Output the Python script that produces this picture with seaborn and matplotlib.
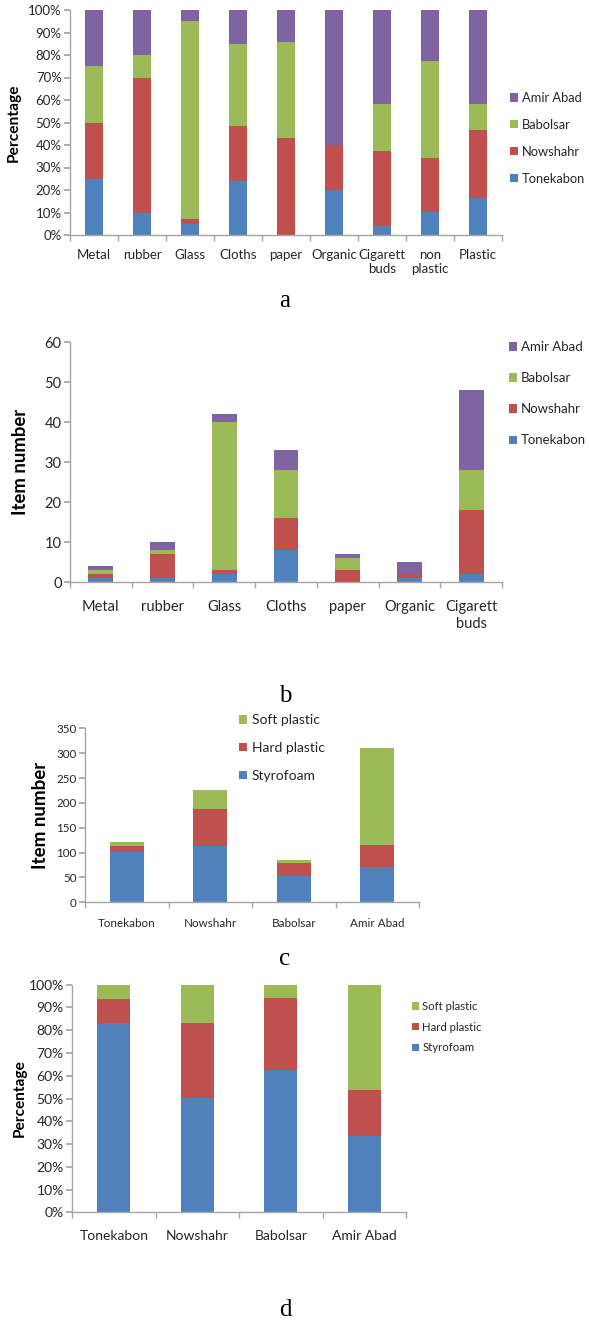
import matplotlib
matplotlib.use("Agg")
import matplotlib.pyplot as plt
from matplotlib.patches import Patch
import numpy as np
import pandas as pd
import seaborn as sns

sns.set_theme(style="white")
plt.rcParams["font.family"] = ["Lato", "DejaVu Sans"]

# ---- data -------------------------------------------------------------
cities = ["Tonekabon", "Nowshahr", "Babolsar", "Amir Abad"]
city_colors = ["#4F81BD", "#C0504D", "#9BBB59", "#8064A2"]

# (a) share of each city per litter type, %
types_a = ["Metal", "rubber", "Glass", "Cloths", "paper", "Organic",
           "Cigarett\nbuds", "non\nplastic", "Plastic"]
tonekabon_pct = [25.0, 10.0, 4.8, 24.2, 0.0, 20.0, 4.2, 10.1, 16.4]
nowshahr_pct = [25.0, 60.0, 2.4, 24.2, 42.9, 20.0, 33.3, 24.2, 30.4]
babolsar_pct = [25.0, 10.0, 88.1, 36.4, 42.9, 0.0, 20.8, 43.0, 11.4]
amirabad_pct = [25.0, 20.0, 4.8, 15.2, 14.3, 60.0, 41.7, 22.8, 41.7]

# (b) item counts of non-plastic litter
types_b = ["Metal", "rubber", "Glass", "Cloths", "paper", "Organic",
           "Cigarett\nbuds"]
tonekabon_n = [1, 1, 2, 8, 0, 1, 2]
nowshahr_n = [1, 6, 1, 8, 3, 1, 16]
babolsar_n = [1, 1, 37, 12, 3, 0, 10]
amirabad_n = [1, 2, 2, 5, 1, 3, 20]

# (c) plastic item counts per city
plastics = ["Styrofoam", "Hard plastic", "Soft plastic"]
plastic_colors = ["#4F81BD", "#C0504D", "#9BBB59"]
styrofoam_n = [101, 113, 53, 72]
hard_n = [13, 74, 27, 43]
soft_n = [8, 39, 5, 195]

# (d) plastic composition per city, %
styrofoam_pct = [83.0, 50.1, 62.7, 33.7]
hard_pct = [10.6, 32.9, 31.4, 20.0]
soft_pct = [6.4, 17.0, 5.9, 46.3]

AXIS_GREY = "#A6A6A6"
TEXT = "#262626"

W, H = 589, 1321
fig = plt.figure(figsize=(W / 100, H / 100), dpi=100)


def add_axes(left, right, top, bottom):
    return fig.add_axes([left / W, 1 - bottom / H, (right - left) / W,
                         (bottom - top) / H])


def stacked(ax, cats, series, colors, width):
    """Stack series by overlaying cumulative bars, tallest first."""
    df = pd.DataFrame({"cat": cats})
    cum = np.cumsum(np.array(series, dtype=float), axis=0)
    for level in range(len(series) - 1, -1, -1):
        df["h"] = cum[level]
        sns.barplot(data=df, x="cat", y="h", order=cats, color=colors[level],
                    width=width, saturation=1, linewidth=0, ax=ax)
    ax.set_xlim(-0.5, len(cats) - 0.5)
    ax.set_xlabel("")


def style(ax, n, tick_fs, xpad, ylab, ylab_fs, ylab_x, pct=False, ymax=None,
          step=None):
    for s in ["top", "right"]:
        ax.spines[s].set_visible(False)
    for s in ["left", "bottom"]:
        ax.spines[s].set_color(AXIS_GREY)
        ax.spines[s].set_linewidth(1.0)
    ax.set_ylim(0, ymax)
    ax.set_yticks(np.arange(0, ymax + 0.01, step))
    if pct:
        ax.set_yticklabels([f"{int(v)}%" for v in ax.get_yticks()])
    ax.set_xticks(np.arange(-0.5, n, 1.0), minor=True)
    ax.tick_params(axis="x", which="major", length=0, pad=xpad,
                   labelsize=tick_fs, labelcolor=TEXT)
    ax.tick_params(axis="x", which="minor", length=4, color=AXIS_GREY,
                   direction="out", bottom=True)
    ax.tick_params(axis="y", which="major", length=4, color=AXIS_GREY,
                   direction="out", left=True, labelsize=tick_fs,
                   labelcolor=TEXT, pad=2)
    ax.set_ylabel(ylab, fontsize=ylab_fs, fontweight="bold", color="black")
    # right edge of the rotated axis title at a fixed figure x position
    x0 = ax.get_position().x0
    w = ax.get_position().width
    ax.yaxis.set_label_coords((ylab_x / W - x0) / w, 0.5)
    ax.grid(False)


def legend(ax, labels, colors, x, y, fs, spacing):
    handles = [Patch(facecolor=c, edgecolor="none") for c in colors]
    ax.legend(handles[::-1], labels[::-1], loc="upper left",
              bbox_to_anchor=(x / W, 1 - y / H), bbox_transform=fig.transFigure,
              frameon=False, fontsize=fs, handlelength=0.6, handleheight=0.6,
              handletextpad=0.3, labelspacing=spacing, borderpad=0,
              borderaxespad=0, labelcolor=TEXT)


def panel_label(txt, x, y):
    fig.text(x / W, 1 - y / H, txt, ha="center", va="baseline",
             fontsize=18, family="Liberation Serif", color="black")


# (a)
ax_a = add_axes(70, 502, 10, 235)
stacked(ax_a, types_a, [tonekabon_pct, nowshahr_pct, babolsar_pct, amirabad_pct],
        city_colors, 0.38)
style(ax_a, len(types_a), 9.5, 10, "Percentage", 11.2, 21, pct=True,
      ymax=100, step=10)
legend(ax_a, cities, city_colors, 510, 92, 9.3, 1.15)
panel_label("a", 285, 307)

# (b)
ax_b = add_axes(70, 502, 342.3, 582.3)
stacked(ax_b, types_b, [tonekabon_n, nowshahr_n, babolsar_n, amirabad_n],
        city_colors, 0.405)
style(ax_b, len(types_b), 10.5, 13, "Item number", 13.3, 29, ymax=60, step=10)
legend(ax_b, cities, city_colors, 509, 341, 9.5, 1.45)
panel_label("b", 285, 702)

# (c)
ax_c = add_axes(85, 419, 728.3, 902.3)
stacked(ax_c, cities, [styrofoam_n, hard_n, soft_n], plastic_colors, 0.41)
style(ax_c, len(cities), 8.4, 11, "Item number", 13.5, 49, ymax=350, step=50)
legend(ax_c, plastics, plastic_colors, 239, 714, 10, 1.15)
panel_label("c", 285, 965)

# (d)
ax_d = add_axes(72, 406, 984.7, 1212.3)
stacked(ax_d, cities, [styrofoam_pct, hard_pct, soft_pct], plastic_colors, 0.40)
style(ax_d, len(cities), 10, 13, "Percentage", 11.1, 27, pct=True,
      ymax=100, step=10)
legend(ax_d, plastics, plastic_colors, 412, 1001, 8.2, 0.85)
panel_label("d", 285, 1316)

fig.savefig("out.png", dpi=100, facecolor="white")
